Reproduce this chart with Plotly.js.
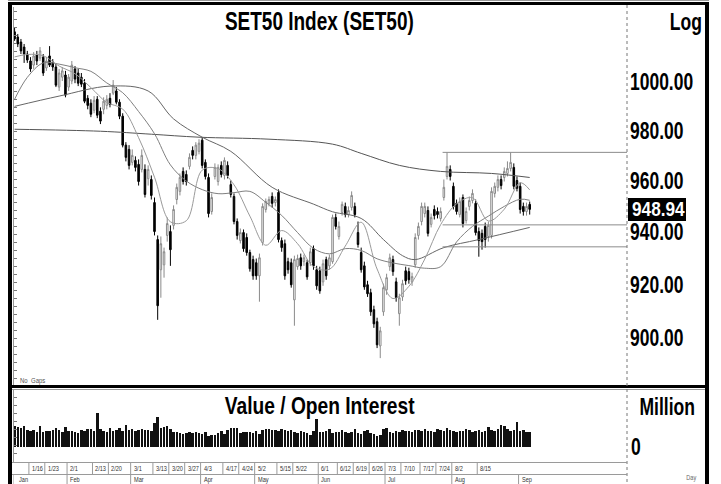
<!DOCTYPE html>
<html><head><meta charset="utf-8">
<script src="https://cdn.plot.ly/plotly-3.0.1.min.js"></script>
<style>html,body{margin:0;padding:0;background:#fff;overflow:hidden}#chart{width:721px;height:484px}</style>
</head><body><div id="chart"></div>
<script>
// ---- data (SET50 daily, Jan 9 .. Sep 7) ----
const openP = [1021.0,1018.8,1016.7,1014.6,1011.7,1008.8,1007.1,1011.3,1010.0,1010.4,
1005.9,1010.9,1008.4,1006.3,998.0,1002.1,1003.0,998.0,1000.5,1005.5,
1003.8,1002.1,999.6,993.4,991.4,988.5,993.0,988.1,988.9,990.5,
993.4,995.5,996.4,991.8,986.1,974.4,972.7,967.5,968.3,966.7,
964.7,964.7,961.0,960.7,951.6,937.2,925.6,927.5,938.8,940.3,
942.7,952.8,956.0,963.9,962.7,965.9,972.3,970.3,971.9,976.4,
967.5,961.5,948.1,961.9,959.9,966.3,962.3,966.3,958.7,954.0,
944.2,936.8,939.9,938.0,932.2,929.5,928.3,923.3,936.1,948.9,
951.3,954.0,951.6,955.6,936.8,935.6,928.7,928.3,914.2,926.8,
930.2,928.7,928.3,928.3,933.7,925.6,925.2,921.0,929.5,927.1,
928.7,945.8,938.4,947.7,950.1,946.9,949.7,950.1,939.9,932.2,
927.1,919.9,916.9,910.5,906.0,897.0,909.7,918.0,926.8,929.5,
921.0,909.0,915.3,925.2,924.9,921.0,927.5,938.8,944.2,947.3,
948.5,943.1,948.9,948.1,945.4,953.6,961.9,964.7,958.0,951.3,
946.9,953.6,944.6,950.1,952.4,951.3,940.3,939.6,942.3,938.4,
938.8,955.2,957.6,960.7,961.5,963.1,965.1,965.5,960.3,958.0,
950.1,948.1,950.9];
const highP = [1022.7,1020.1,1018.0,1015.9,1013.0,1010.4,1012.5,1013.0,1014.6,1011.7,
1010.4,1015.0,1009.6,1007.6,1005.5,1006.3,1004.7,1003.4,1008.8,1006.7,
1005.5,1003.8,1001.3,994.7,993.0,994.3,994.3,989.7,993.8,994.7,
995.5,1000.9,998.0,993.0,987.3,975.6,974.4,972.7,969.9,968.7,
972.7,966.7,966.3,962.3,953.6,938.8,938.4,934.1,945.8,942.7,
950.5,959.1,963.1,965.5,964.3,971.1,973.9,975.6,976.8,977.6,
968.7,963.1,955.2,967.1,966.7,967.9,969.5,967.9,960.3,955.2,
945.4,941.5,941.1,939.6,933.3,931.0,929.9,931.8,951.3,953.2,
954.0,955.6,954.0,956.8,938.0,937.2,930.2,929.9,931.0,931.4,
931.8,931.4,929.5,934.1,934.9,927.1,926.8,929.5,930.6,931.4,
946.9,947.3,944.2,952.0,951.6,950.1,956.0,951.6,944.2,934.1,
928.7,921.4,918.4,912.0,907.5,904.1,920.3,924.1,931.8,931.0,
922.6,916.5,921.8,926.8,926.4,924.5,939.6,943.8,951.6,951.6,
950.1,947.3,950.5,949.7,949.7,960.7,971.5,966.3,959.5,952.8,
953.6,954.8,949.7,954.0,956.8,952.8,941.9,941.1,943.8,944.2,
957.6,959.5,962.3,962.3,965.5,967.9,971.5,967.1,961.9,959.5,
951.6,951.6,952.0];
const lowP = [1017.2,1014.6,1011.7,1008.0,1008.0,1004.3,1005.5,1007.1,1008.8,1002.6,
1004.7,1006.3,1004.7,998.0,996.4,1000.5,993.8,996.4,999.2,999.6,
998.4,998.0,991.4,988.9,985.7,987.3,985.3,982.9,986.9,988.9,
989.7,994.7,990.9,984.9,973.5,967.9,964.7,966.3,963.9,958.3,
963.5,953.6,958.3,952.8,938.8,906.7,915.0,922.6,936.4,927.1,
941.1,950.9,954.4,958.7,958.3,964.7,968.7,968.7,970.7,965.1,
960.7,945.8,946.9,960.7,958.3,961.5,960.7,961.1,953.6,943.1,
937.2,935.7,932.5,931.0,924.9,921.8,921.8,913.5,934.9,947.7,
950.1,949.7,950.1,936.1,932.5,921.8,924.1,918.8,904.5,925.6,
925.6,927.1,921.8,927.1,925.6,918.0,916.5,919.5,921.8,925.6,
927.9,941.1,937.2,946.5,945.8,945.8,948.5,945.8,934.1,924.5,
918.0,915.3,908.2,903.7,896.2,892.5,908.2,916.1,925.2,923.3,
913.5,904.5,913.8,919.9,920.3,919.5,926.4,937.2,942.7,945.8,
938.4,941.9,945.0,945.4,944.2,952.4,960.7,960.3,948.9,946.9,
945.8,941.9,943.4,948.5,951.3,938.8,930.6,933.3,934.1,936.4,
937.6,953.6,956.0,956.8,959.9,961.9,963.9,956.8,956.0,947.3,
946.5,946.5,946.9];
const closeP = [1018.0,1015.9,1013.0,1011.7,1009.2,1005.5,1010.9,1008.8,1013.0,1003.8,
1008.8,1007.1,1006.3,998.8,1003.8,1004.7,994.7,1002.1,1007.1,1001.3,
999.6,999.2,992.2,990.5,986.9,992.6,986.5,984.1,992.2,993.0,
990.9,998.8,991.8,986.1,974.4,969.5,966.3,970.3,965.5,959.9,
970.3,954.8,964.7,954.4,940.3,912.0,935.6,932.5,943.4,933.3,
948.9,957.6,961.5,959.9,959.9,969.5,970.3,974.4,975.2,966.3,
961.9,947.3,953.6,965.5,965.5,962.7,968.3,962.3,954.8,944.2,
938.8,939.9,933.7,932.2,926.0,923.3,923.3,930.2,950.1,952.0,
952.8,951.3,952.8,937.2,934.1,923.3,925.6,919.9,929.5,929.9,
927.1,930.2,922.9,932.5,927.1,919.5,917.6,927.9,923.3,930.2,
945.8,942.3,942.3,950.9,946.9,948.5,954.4,946.9,935.3,925.6,
919.1,916.5,909.7,905.2,897.4,902.6,918.8,922.6,930.2,924.9,
915.0,915.0,920.3,921.4,921.8,923.0,938.0,942.3,950.1,950.1,
939.6,945.8,946.5,946.9,948.1,957.6,965.9,961.9,950.1,948.1,
952.0,943.4,948.1,952.4,955.2,939.9,936.8,936.4,937.2,942.7,
956.0,958.0,960.7,958.3,963.9,965.1,967.5,958.0,957.2,948.9,
948.1,950.1,948.94];
// trading value, million baht
const volume = [31500,30000,28500,31500,25500,24000,25500,22500,31500,22500,
24000,24000,25500,28500,25500,22500,30000,24000,24000,22500,
21000,25500,24000,27000,27000,24000,51000,27000,24000,22500,
28500,24000,25500,28500,24000,33000,25500,27000,24000,25500,
27000,25500,25500,24000,36000,45000,28500,30000,31500,27000,
22500,22500,21000,19500,21000,22500,21000,22500,21000,19500,
22500,16500,18000,18000,21000,24000,19500,25500,28500,28500,
28500,21000,22500,22500,22500,21000,24000,19500,25500,27000,
27000,25500,25500,24000,27000,25500,24000,25500,22500,21000,
24000,22500,21000,18000,24000,42000,22500,22500,24000,27000,
21000,22500,22500,25500,22500,21000,22500,27000,21000,19500,
24000,25500,21000,19500,16500,18000,27000,28500,22500,21000,
24000,22500,25500,24000,24000,22500,25500,25500,24000,27000,
24000,24000,22500,27000,25500,24000,28500,25500,24000,22500,
24000,24000,27000,25500,22500,24000,25500,22500,24000,30000,
25500,24000,27000,33000,31500,27000,24000,25500,37500,24000,
25500,22500,22500];
// moving averages read at sample days
const maIdx = [0,4,9,14,19,24,29,34,39,44,49,54,59,64,69,74,79,84,89,94,99,104,109,114,119,124,129,134,139,144,149,154,159,162];
const ma10 = [1010.5,1011.5,1011.0,1006.7,1003.5,997.8,991.7,989.0,977.4,961.6,944.1,944.5,964.4,965.0,958.6,946.3,935.0,940.7,935.6,926.8,925.8,934.7,943.9,925.9,914.7,919.3,929.7,943.0,951.1,953.5,944.4,949.0,959.4,956.6];
const ma25 = [993.0,1002.0,1008.0,1007.5,1006.0,1004.5,999.7,995.7,988.0,979.0,966.5,960.1,956.7,955.1,955.5,956.0,951.7,946.6,939.9,933.8,931.7,933.7,933.0,929.8,928.2,927.2,926.2,926.8,936.3,942.3,946.3,950.1,952.9,952.5];
const ma75Idx = [0,14,30,42,50,59,68,81,94,100,109,116,122,126,135,146,162];
const ma75 = [990.1,994.3,998.4,996.4,985.0,977.6,971.9,957.6,951.0,948.0,945.4,937.2,931.0,929.5,934.1,937.2,941.9];
const ma200Idx = [0,27,43,58,80,100,109,121,134,150,162];
const ma200 = [980.8,980.0,978.8,977.6,976.8,974.8,971.1,966.3,963.9,963.1,961.5];
// horizontal levels
const levels = [971.5, 942.9, 934.4];
const levelStart = 134.6;
// price axis ticks
const priceTicks = [900, 920, 940, 960, 980, 1000];
const priceTickText = ['900.00','920.00','940.00','960.00','980.00','1000.00'];
const lastPrice = 948.94;
// date labels
const dayLabels = ['1/16','1/23','2/1','2/13','2/20','3/1','3/13','3/20','3/27','4/3','4/17','4/24','5/2','5/15','5/22','6/1','6/12','6/19','6/26','7/3','7/10','7/17','7/24','8/2','8/15'];
const dayIdx = [5,10,17,25,30,37,44,49,54,59,66,71,76,83,88,96,102,107,112,117,122,128,133,138,146];
const monthLabels = ['Jan','Feb','Mar','Apr','May','Jun','Jul','Aug','Sep'];
const monthIdx = [0,17,37,59,76,96,117,138,159];

// ---- drawing ----
const W = 721, H = 484;
const px = x => x / W, py = y => 1 - y / H;
const idx = closeP.map((_, i) => i);
const XR = [-0.5, 192.6];
const FONT = "'Liberation Sans',Arial,Helvetica,sans-serif";
const YR = [Math.log10(882.3), Math.log10(1031.5)];

const traces = [];
traces.push({type:'candlestick', x: idx, open: openP, high: highP, low: lowP, close: closeP,
  xaxis:'x', yaxis:'y', whiskerwidth:0, hoverinfo:'skip', showlegend:false,
  increasing:{line:{color:'#8a8a8a', width:1}, fillcolor:'#ffffff'},
  decreasing:{line:{color:'#000000', width:1}, fillcolor:'#000000'}});
function maLine(xs, ys, color) {
  return {type:'scatter', mode:'lines', x: xs, y: ys, xaxis:'x', yaxis:'y',
    line:{color: color, width:1, shape:'spline', smoothing:1}, hoverinfo:'skip', showlegend:false};
}
traces.push(maLine(ma200Idx, ma200, '#555555'));
traces.push(maLine(ma75Idx, ma75, '#666666'));
traces.push(maLine(maIdx, ma25, '#808080'));
traces.push(maLine(maIdx, ma10, '#9a9a9a'));
levels.forEach(l => traces.push({type:'scatter', mode:'lines', x:[levelStart, XR[1]], y:[l, l],
  xaxis:'x', yaxis:'y', line:{color:'#8c8c8c', width:1}, hoverinfo:'skip', showlegend:false}));
traces.push({type:'bar', x: idx, y: volume, xaxis:'x2', yaxis:'y2', width:0.78,
  marker:{color:'#111111', line:{width:0}}, hoverinfo:'skip', showlegend:false});
// decorative tick rulers on the left
traces.push({type:'scatter', x:[0], y:[0.5], xaxis:'x', yaxis:'y3', mode:'markers', marker:{opacity:0}, hoverinfo:'skip', showlegend:false});
traces.push({type:'scatter', x:[0], y:[0.5], xaxis:'x2', yaxis:'y4', mode:'markers', marker:{opacity:0}, hoverinfo:'skip', showlegend:false});

const shapes = [];
function pline(x0, y0, x1, y1, color, width, dash) {
  shapes.push({type:'line', xref:'paper', yref:'paper', x0:px(x0), y0:py(y0), x1:px(x1), y1:py(y1),
    line:{color: color, width: width, dash: dash || 'solid'}});
}
pline(8, 0.5, 709, 0.5, '#9a9a9a', 1);
pline(10, 2, 10, 484, '#000', 4);
pline(8, 3.5, 709, 3.5, '#000', 3);
pline(707, 2, 707, 484, '#000', 4);
pline(8, 386.5, 709, 386.5, '#000', 3);
pline(12, 389.5, 705, 389.5, '#9a9a9a', 1);
pline(627, 5, 627, 484, '#777', 1, 'dot');
pline(12, 462.5, 627, 462.5, '#9a9a9a', 1);
pline(12, 474.5, 627, 474.5, '#9a9a9a', 1);
dayIdx.forEach(i => shapes.push({type:'line', xref:'x2', yref:'paper', x0:i-0.5, x1:i-0.5, y0:py(463), y1:py(474),
  line:{color:'#9a9a9a', width:1}}));
monthIdx.forEach(i => shapes.push({type:'line', xref:'x2', yref:'paper', x0:i-0.5, x1:i-0.5, y0:py(475), y1:py(484),
  line:{color:'#9a9a9a', width:1}}));
// black box behind the last price
shapes.push({type:'rect', xref:'paper', yref:'paper', x0:px(628), x1:px(686), y0:py(221), y1:py(198),
  fillcolor:'#000', line:{width:0}, layer:'above'});

const ann = [];
const cond = [];
function note(text, x, y, size, anchor, color, squeeze) {
  ann.push({text: text, xref:'paper', yref:'paper', x: px(x), y: py(y), xanchor: anchor || 'center',
    yanchor:'middle', showarrow:false, font:{family: FONT, size: size, color: color || '#000'}});
  cond.push(squeeze || 0.75);
}
note('<b>SET50 Index (SET50)</b>', 319, 21, 25, 'center', '#000', 0.76);
note('<b>Log</b>', 704, 21, 24, 'right', '#000', 0.73);
note('No  Gaps', 18, 380, 7.5, 'left', '#555', 0.8);
note('<b>Value / Open Interest</b>', 319, 405, 24, 'center', '#000', 0.8);
note('<b>Million</b>', 697, 406, 24, 'right', '#000', 0.73);
note('Day', 691, 478, 7, 'center', '#666', 0.8);
ann.push({text:'<b>0</b>', xref:'paper', yref:'y2', x: px(629), y: 0, xanchor:'left', yanchor:'middle', showarrow:false,
  font:{family: FONT, size:24, color:'#000'}});
cond.push(0.73);
note('<b>' + lastPrice.toFixed(2) + '</b>', 630, 209, 20, 'left', '#fff', 0.86);
dayLabels.forEach((t, k) => { ann.push({text: t, xref:'x2', yref:'paper', x: dayIdx[k]-0.5, y: py(468.5),
  xanchor:'left', yanchor:'middle', xshift:1, showarrow:false, font:{family: FONT, size:7.5, color:'#333'}}); cond.push(0.75); });
monthLabels.forEach((t, k) => { ann.push({text: t, xref:'x2', yref:'paper', x: monthIdx[k]-0.5, y: py(479.5),
  xanchor:'left', yanchor:'middle', xshift: k === 0 ? 4 : 1, showarrow:false, font:{family: FONT, size:7.5, color:'#333'}}); cond.push(0.75); });

const layout = {
  width: W, height: H, margin:{l:0, r:0, t:0, b:0}, paper_bgcolor:'#fff', plot_bgcolor:'rgba(0,0,0,0)',
  showlegend:false, bargap:0,
  xaxis:{domain:[px(13), px(627)], range: XR, anchor:'y', showticklabels:false, showgrid:false, zeroline:false,
    ticks:'', showline:false, rangeslider:{visible:false}, fixedrange:true},
  yaxis:{domain:[py(386), py(7)], type:'log', range: YR, side:'right', anchor:'x', tickvals: priceTicks,
    ticktext: priceTickText.map(t => '<b>' + t + '</b>'), ticks:'', showgrid:false, zeroline:false, showline:false,
    tickfont:{family: FONT, size:23, color:'#000'}, ticklabelstandoff:2, fixedrange:true},
  yaxis3:{overlaying:'y', domain:[py(386), py(7)], range:[0,1], anchor:'free', position: px(13), side:'left',
    ticks:'inside', ticklen:3, tickcolor:'#777', dtick:0.021, showticklabels:false, showgrid:false,
    zeroline:false, showline:true, linecolor:'#999', linewidth:1},
  xaxis2:{domain:[px(13), px(627)], range: XR, anchor:'y2', showticklabels:false, showgrid:false, zeroline:false,
    ticks:'', showline:false, fixedrange:true},
  yaxis2:{domain:[py(462), py(389)], range:[-22950, 86550], anchor:'x2', showticklabels:false, showgrid:false,
    zeroline:false, ticks:'', showline:false, fixedrange:true},
  yaxis4:{overlaying:'y2', domain:[py(462), py(389)], range:[0,1], anchor:'free', position: px(13), side:'left',
    ticks:'inside', ticklen:3, tickcolor:'#777', dtick:0.11, showticklabels:false, showgrid:false,
    zeroline:false, showline:true, linecolor:'#999', linewidth:1},
  shapes: shapes, annotations: ann
};

// horizontally condense real text (the original uses a narrow face)
function condense(el, s, anchor) {
  const bb = el.getBBox();
  const cx = anchor === 'left' ? bb.x : (anchor === 'right' ? bb.x + bb.width : bb.x + bb.width / 2);
  const old = el.getAttribute('transform') || '';
  el.setAttribute('transform', old + ' translate(' + cx + ',0) scale(' + s + ',1) translate(' + (-cx) + ',0)');
}
Plotly.newPlot('chart', traces, layout, {staticPlot:true, displayModeBar:false}).then(gd => {
  gd.querySelectorAll('g.annotation').forEach(g => {
    const i = +g.getAttribute('data-index');
    const t = g.querySelector('text.annotation-text');
    if (t && ann[i]) condense(t, cond[i], ann[i].xanchor);
  });
  gd.querySelectorAll('g.ytick text').forEach(t => condense(t, 0.76, 'left'));
});
</script>
</body></html>
